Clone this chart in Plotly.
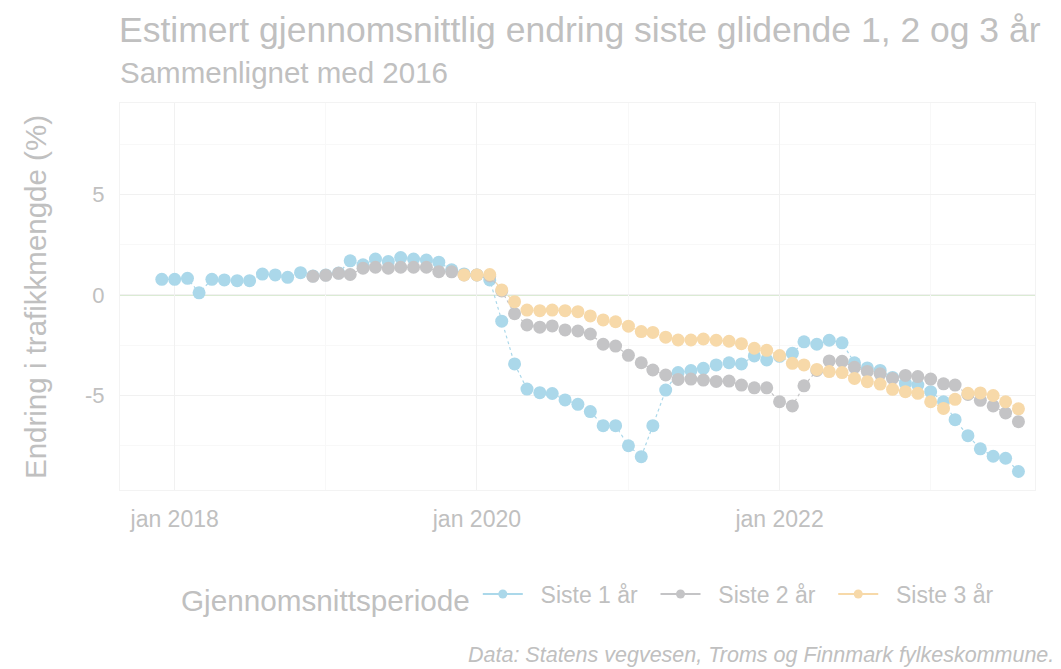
import pandas as pd
import plotly.graph_objects as go

# ---- data (monthly, first of month) ----
start_1 = "2017-12-01"
siste_1 = [0.78, 0.78, 0.83, 0.11, 0.78, 0.75, 0.71, 0.71, 1.04, 1.0, 0.88, 1.11,
           0.95, 1.0, 1.1, 1.7, 1.5, 1.79, 1.66, 1.86, 1.79, 1.74, 1.63, 1.25,
           1.05, 1.0, 0.75, -1.3, -3.43, -4.68, -4.86, -4.9, -5.22, -5.44, -5.8, -6.5,
           -6.5, -7.5, -8.04, -6.5, -4.73, -3.86, -3.76, -3.65, -3.48, -3.37, -3.43, -3.03,
           -3.23, -3.05, -2.9, -2.33, -2.45, -2.25, -2.38, -3.37, -3.63, -3.75, -4.1, -4.4,
           -4.48, -4.81, -5.31, -6.2, -7.0, -7.65, -8.02, -8.12, -8.78]
start_2 = "2018-12-01"
siste_2 = [0.93, 0.98, 1.08, 1.02, 1.33, 1.38, 1.33, 1.38, 1.38, 1.38, 1.16, 1.15,
           1.0, 1.0, 0.95, 0.2, -0.93, -1.49, -1.6, -1.54, -1.74, -1.79, -1.94, -2.45,
           -2.54, -3.0, -3.37, -3.73, -3.98, -4.2, -4.18, -4.23, -4.3, -4.28, -4.48, -4.62,
           -4.62, -5.31, -5.52, -4.52, -3.75, -3.28, -3.3, -3.6, -3.8, -3.92, -4.15, -4.0,
           -4.06, -4.18, -4.42, -4.48, -4.95, -5.24, -5.52, -5.87, -6.3]
start_3 = "2019-12-01"
siste_3 = [1.0, 1.0, 1.02, 0.25, -0.33, -0.75, -0.78, -0.75, -0.78, -0.83, -1.04, -1.24,
           -1.33, -1.55, -1.82, -1.86, -2.1, -2.24, -2.24, -2.19, -2.25, -2.3, -2.42, -2.65,
           -2.75, -3.01, -3.4, -3.48, -3.7, -3.81, -3.86, -4.15, -4.31, -4.43, -4.69, -4.81,
           -4.89, -5.31, -5.64, -5.19, -4.89, -4.87, -5.0, -5.31, -5.66]

series_names = ["Siste 1 år", "Siste 2 år", "Siste 3 år"]
series_starts = [start_1, start_2, start_3]
series_values = [siste_1, siste_2, siste_3]
series_colors = ["#abd8ea", "#c4c4c6", "#f7d9a9"]

x_tickvals = ["2018-01-01", "2020-01-01", "2022-01-01"]
x_ticktext = ["jan 2018", "jan 2020", "jan 2022"]
y_tickvals = [-5, 0, 5]
y_ticktext = ["-5", "0", "5"]

TXT = "#c0c0c0"
FONT = "Liberation Sans, Arial, sans-serif"

L, R, T, B = 120, 26, 103, 179
W, H = 1061, 669
PW, PH = W - L - R, H - T - B


def px_x(x):
    return (x - L) / PW


def px_y(y):
    return (H - B - y) / PH


fig = go.Figure()
for name, start, vals, col in zip(series_names, series_starts, series_values, series_colors):
    dates = pd.date_range(start, periods=len(vals), freq="MS")
    fig.add_trace(go.Scatter(
        x=dates, y=vals, name=name, mode="lines+markers", showlegend=False,
        line=dict(color=col, width=1.2, dash="dot"),
        marker=dict(color=col, size=13),
    ))
# legend entries (solid line with small dot, as in the reference legend)
NB = "\u00a0\u00a0"
for name, col in zip(series_names, series_colors):
    fig.add_trace(go.Scatter(
        x=[None], y=[None], name=NB + name + NB, mode="lines+markers",
        line=dict(color=col, width=2), marker=dict(color=col, size=9),
    ))

fig.add_hline(y=0, line=dict(color="#dbebd4", width=2), layer="below")

fig.update_layout(
    width=W, height=H,
    margin=dict(l=L, r=R, t=T, b=B),
    paper_bgcolor="white", plot_bgcolor="white",
    font=dict(family=FONT, color=TXT, size=16),
    showlegend=True,
    legend=dict(
        orientation="h", x=px_x(179), xanchor="left", y=px_y(597), yanchor="middle",
        title=dict(text="Gjennomsnittsperiode", font=dict(size=29.7, color=TXT), side="left"),
        font=dict(size=23, color=TXT), itemwidth=40, tracegroupgap=0,
    ),
    xaxis=dict(
        range=["2017-08-22", "2023-09-10"],
        tickvals=x_tickvals, ticktext=x_ticktext,
        showgrid=True, gridcolor="#f1f1f1", gridwidth=1,
        minor=dict(showgrid=True, gridcolor="#f8f8f8", tickvals=["2019-01-01", "2021-01-01", "2023-01-01"]),
        zeroline=False, showline=True, linecolor="#f3f3f3", mirror=True,
        ticks="", tickfont=dict(size=23, color=TXT),
        ticklabelstandoff=8,
    ),
    yaxis=dict(
        range=[-9.7, 9.55],
        tickvals=y_tickvals, ticktext=y_ticktext,
        showgrid=True, gridcolor="#f1f1f1", gridwidth=1,
        minor=dict(showgrid=True, gridcolor="#f8f8f8", tickvals=[-7.5, -2.5, 2.5, 7.5]),
        zeroline=False, showline=True, linecolor="#f3f3f3", mirror=True,
        ticks="", tickfont=dict(size=22, color=TXT),
        ticklabelstandoff=10,
    ),
    annotations=[
        dict(text="Estimert gjennomsnittlig endring siste glidende 1, 2 og 3 år",
             xref="paper", yref="paper", x=0, y=px_y(30),
             xanchor="left", yanchor="middle", showarrow=False, xshift=-3,
             font=dict(size=35.5, color=TXT)),
        dict(text="Sammenlignet med 2016",
             xref="paper", yref="paper", x=0, y=px_y(72),
             xanchor="left", yanchor="middle", showarrow=False, xshift=-2,
             font=dict(size=29.5, color=TXT)),
        dict(text="Endring i trafikkmengde (%)",
             xref="paper", yref="paper", x=px_x(35), y=px_y(297),
             xanchor="center", yanchor="middle", textangle=-90, showarrow=False,
             font=dict(size=29.5, color=TXT)),
        dict(text="<i>Data: Statens vegvesen, Troms og Finnmark fylkeskommune.</i>",
             xref="paper", yref="paper", x=px_x(1056), y=px_y(655),
             xanchor="right", yanchor="middle", showarrow=False,
             font=dict(size=21.5, color=TXT)),
    ],
)

fig.write_html("out.html", config={"displayModeBar": False},
               post_script="document.body.style.margin='0px';")
